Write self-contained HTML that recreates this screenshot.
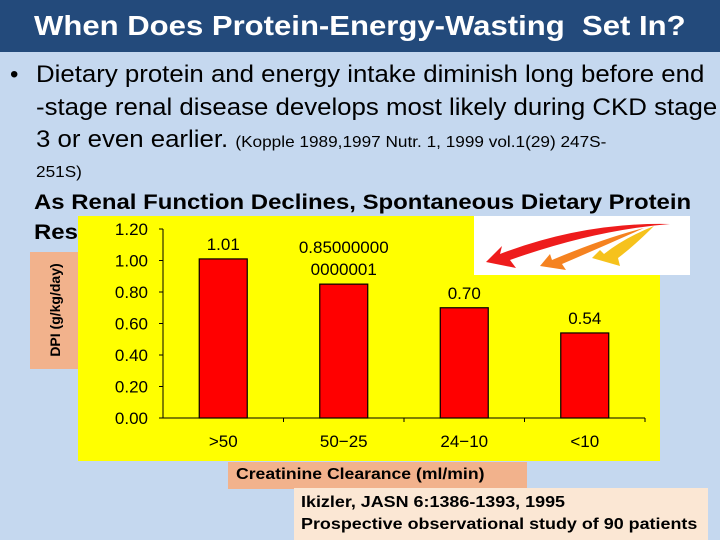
<!DOCTYPE html>
<html><head><meta charset="utf-8"><style>
html,body{margin:0;padding:0}
body{width:720px;height:540px;position:relative;overflow:hidden;background:#c5d8ef;font-family:"Liberation Sans",sans-serif}
.abs{position:absolute}
.sx{transform-origin:0 0;white-space:nowrap}
</style></head><body>
<div class="abs" style="left:0;top:0;width:720px;height:52px;background:#234a7b"></div>
<div class="abs sx" style="left:34px;top:10px;color:#fff;font-size:28px;font-weight:bold;transform:scaleX(1.11)">When Does Protein-Energy-Wasting&nbsp; Set In?</div>
<div class="abs" style="left:10px;top:59px;font-size:24px;line-height:32.5px">•</div>
<div class="abs sx" style="left:36px;top:59px;font-size:24px;line-height:32.5px;color:#000;transform:scaleX(1.075)">
Dietary protein and energy intake diminish long before end<br>
-stage renal disease develops most likely during CKD stage<br>
3 or even earlier. <span style="font-size:16px">(Kopple 1989,1997 Nutr. 1, 1999 vol.1(29) 247S-</span><br>
<span style="font-size:16px;position:relative;top:-6px">251S)</span>
</div>
<div class="abs sx" style="left:34px;top:191px;font-size:21px;font-weight:bold;transform:scaleX(1.14)">As Renal Function Declines, Spontaneous Dietary Protein</div>
<div class="abs sx" style="left:34px;top:221px;font-size:21px;font-weight:bold;transform:scaleX(1.14)">Rest</div>
<div class="abs" style="left:30px;top:252px;width:50px;height:117px;background:#f2b28c"></div>
<div class="abs" style="left:55px;top:310px;transform:translate(-50%,-50%) rotate(-90deg);font-size:14px;font-weight:bold;white-space:nowrap">DPI (g/kg/day)</div>
<div class="abs" style="left:78px;top:216px;width:582px;height:245px;background:#ffff00"></div>
<svg class="abs" style="left:0;top:0" width="720" height="540" id="chart"></svg>
<div class="abs" style="left:474px;top:216px;width:216px;height:59px;background:#fff">
<svg width="216" height="59"><path d="M12 46 L28 30 L26 38 Q110 6 196 8 Q120 14 36 44 L42 52 Z" fill="#ee1c1c"/><path d="M66 50 L76 38 L78 44 Q130 22 170 12 Q130 30 88 48 L92 54 Z" fill="#f58220"/><path d="M118 42 L126 34 L130 38 Q150 22 180 10 Q160 30 144 42 L146 50 Z" fill="#f6c21c"/></svg>
</div>
<div class="abs" style="left:228px;top:462px;width:299px;height:27px;background:#f2b28c"></div>
<div class="abs sx" style="left:236px;top:466px;font-size:16px;font-weight:bold;transform:scaleX(1.1)">Creatinine Clearance (ml/min)</div>
<div class="abs" style="left:294px;top:488px;width:414px;height:52px;background:#fbe7d4"></div>
<div class="abs sx" style="left:301px;top:492px;font-size:16px;font-weight:bold;line-height:22px;transform:scaleX(1.12)">Ikizler, JASN 6:1386-1393, 1995<br>Prospective observational study of 90 patients</div>
<script>
const categories=[">50","50\u221225","24\u221210","<10"];
const values=[1.01,0.85,0.70,0.54];
const valueLabels=["1.01","0.85000000|0000001","0.70","0.54"];
const yTicks=[0,0.2,0.4,0.6,0.8,1.0,1.2];
const NS="http://www.w3.org/2000/svg";
const svg=document.getElementById('chart');
const x0=163,x1=645,y0=418,yTop=229,yMax=1.2;
const y=v=>y0-(v/yMax)*(y0-yTop);
const bw=(x1-x0)/categories.length;
const xc=i=>x0+bw*(i+0.5);
function mk(t,a){const e=document.createElementNS(NS,t);for(const k in a)e.setAttribute(k,a[k]);svg.appendChild(e);return e;}
const ax=mk('line',{x1:x0,y1:yTop,x2:x0,y2:y0,stroke:'#000','stroke-width':1});


const bx=mk('line',{x1:x0,y1:y0,x2:x1,y2:y0,stroke:'#000','stroke-width':1});


yTicks.forEach(t=>{
  const l=mk('line',{x1:x0-4,y1:y(t),x2:x0,y2:y(t),stroke:'#000'});
  
  
  const tx=mk('text',{x:148,y:y(t)+6,'text-anchor':'end','font-size':17,'font-family':'Liberation Sans, sans-serif'});
  tx.textContent=t.toFixed(2);
  
  
});
for(let i=1;i<=categories.length;i++){
  const l=mk('line',{x1:x0+bw*i,y1:y0,x2:x0+bw*i,y2:y0+4,stroke:'#000'});
  
  
}
categories.forEach((c,i)=>{
  const r=mk('rect',{x:xc(i)-24,y:y(values[i]),width:48,height:y0-y(values[i]),fill:'#ff0000',stroke:'#000','stroke-width':1.2});
  
  
  const t=mk('text',{x:xc(i),y:447,'text-anchor':'middle','font-size':17,'font-family':'Liberation Sans, sans-serif'});
  t.textContent=c;
  
  
  const parts=valueLabels[i].split('|');
  parts.forEach((p,k)=>{
    const v=mk('text',{x:xc(i),y:y(values[i])-9-(parts.length-1-k)*22,'text-anchor':'middle','font-size':17,'font-family':'Liberation Sans, sans-serif'});
    v.textContent=p;
    
    
  });
});
</script>
</body></html>
